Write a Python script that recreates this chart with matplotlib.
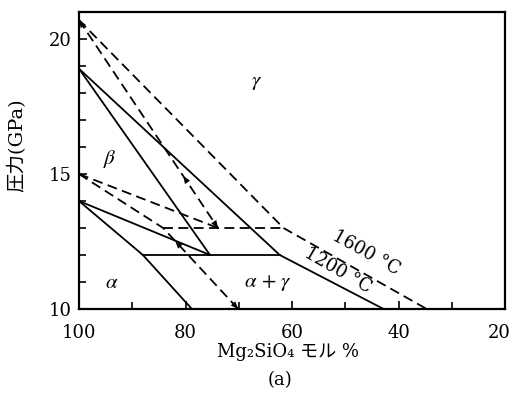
import numpy as np
import matplotlib
matplotlib.use('Agg')
import matplotlib.pyplot as plt
from matplotlib.transforms import ScaledTranslation

plt.rcParams['font.family'] = ['DejaVu Serif', 'Noto Sans CJK JP']
plt.rcParams['mathtext.fontset'] = 'stix'

#1200 C phase boundaries (solid), x = Mg2SiO4 mol %, y = pressure GPa
beta_x_1200  = [100, 75.4]
beta_y_1200  = [18.9, 12.0]
gamma_x_1200 = [100, 62.3, 42.8]
gamma_y_1200 = [18.9, 12.0, 10.0]
ab_x_1200    = [100, 75.4]
ab_y_1200    = [14.0, 12.0]
alpha_x_1200 = [100, 88.0, 78.8]
alpha_y_1200 = [14.0, 12.0, 10.0]
tie_x_1200   = [88.0, 62.3]
tie_y_1200   = [12.0, 12.0]

#1600 C phase boundaries (dashed)
beta_x_1600  = [100, 73.9]
beta_y_1600  = [20.7, 13.0]
gamma_x_1600 = [100, 61.6, 34.7]
gamma_y_1600 = [20.7, 13.0, 10.0]
ab_x_1600    = [100, 73.9]
ab_y_1600    = [15.0, 13.0]
alpha_x_1600 = [100, 84.2, 70.1]
alpha_y_1600 = [15.0, 13.0, 10.0]
tie_x_1600   = [84.2, 61.6]
tie_y_1600   = [13.0, 13.0]

x_major = [100, 80, 60, 40, 20]
y_major = [10, 15, 20]

LW = 1.3
DASH = (0, (5.5, 3))


def arrow_on(ax, xs, ys, frac, back=False):
    #small filled arrowhead sitting on a line segment
    x0, x1 = xs[0], xs[1]
    y0, y1 = ys[0], ys[1]
    tip = np.array([x0 + frac * (x1 - x0), y0 + frac * (y1 - y0)])
    d = np.array([x1 - x0, y1 - y0]) * 0.04
    tail = tip + d if back else tip - d
    ax.annotate('', xy=tip, xytext=tail,
                arrowprops=dict(arrowstyle='-|>,head_length=0.55,head_width=0.22',
                                color='black', lw=0, shrinkA=0, shrinkB=0))


fig = plt.figure(figsize=(5.14, 3.97), dpi=100)
ax = fig.add_axes([79 / 514, 1 - 309 / 397, 426 / 514, 297 / 397])

for xs, ys in [(beta_x_1200, beta_y_1200), (gamma_x_1200, gamma_y_1200),
               (ab_x_1200, ab_y_1200), (alpha_x_1200, alpha_y_1200),
               (tie_x_1200, tie_y_1200)]:
    ax.plot(xs, ys, '-', color='black', lw=LW, solid_joinstyle='miter')

for xs, ys in [(beta_x_1600, beta_y_1600), (gamma_x_1600, gamma_y_1600),
               (ab_x_1600, ab_y_1600), (alpha_x_1600, alpha_y_1600),
               (tie_x_1600, tie_y_1600)]:
    ax.plot(xs, ys, color='black', lw=LW, linestyle=DASH)

#arrowheads drawn on the dashed curves
arrow_on(ax, beta_x_1600, beta_y_1600, 1.0)
arrow_on(ax, beta_x_1600, beta_y_1600, 0.75, back=True)
arrow_on(ax, beta_x_1600, beta_y_1600, 0.0, back=True)
arrow_on(ax, alpha_x_1600[1:], alpha_y_1600[1:], 0.16, back=True)
arrow_on(ax, alpha_x_1600[1:], alpha_y_1600[1:], 1.0)

#phase labels
ax.text(66.6, 18.4, r'$\gamma$', fontsize=15, ha='center', va='center')
ax.text(94.2, 15.55, r'$\beta$', fontsize=15, ha='center', va='center')
ax.text(93.9, 11.0, r'$\alpha$', fontsize=15, ha='center', va='center')
ax.text(64.5, 10.96, r'$\alpha\,+\,\gamma$', fontsize=15, ha='center', va='center')
ax.text(46.0, 12.09, '1600 °C', fontsize=13, ha='center', va='center', rotation=-29)
ax.text(51.5, 11.44, '1200 °C', fontsize=13, ha='center', va='center', rotation=-30)

ax.set_xlim(100, 20)
ax.set_ylim(10, 21)
ax.set_xticks(x_major)
ax.set_yticks(y_major)
ax.set_xticks(np.arange(30, 100, 20), minor=True)
ax.set_yticks([y for y in range(11, 21) if y not in y_major], minor=True)
ax.set_xticklabels([f'{t:g}' for t in x_major])
ax.set_yticklabels([f'{t:g}' for t in y_major])
ax.tick_params(which='both', direction='in', width=1.2, labelsize=13, pad=5)
ax.tick_params(axis='x', which='both', pad=11)
ax.tick_params(which='major', length=6)
ax.tick_params(which='minor', length=5)
for spine in ax.spines.values():
    spine.set_linewidth(1.6)

#last x label sits against the figure edge, nudge it left
last = ax.get_xticklabels()[-1]
last.set_transform(last.get_transform() + ScaledTranslation(-4 / 72, 0, fig.dpi_scale_trans))

ax.set_ylabel('圧力(GPa)', fontsize=14)
ax.yaxis.set_label_coords(-0.124, 0.55)
ax.set_xlabel('Mg₂SiO₄ モル %', fontsize=13)
ax.xaxis.set_label_coords(0.49, -0.115)
fig.text(280 / 514, 1 - 380 / 397, '(a)', fontsize=13, ha='center', va='center')

plt.savefig('out.png', dpi=100)
plt.close(fig)
